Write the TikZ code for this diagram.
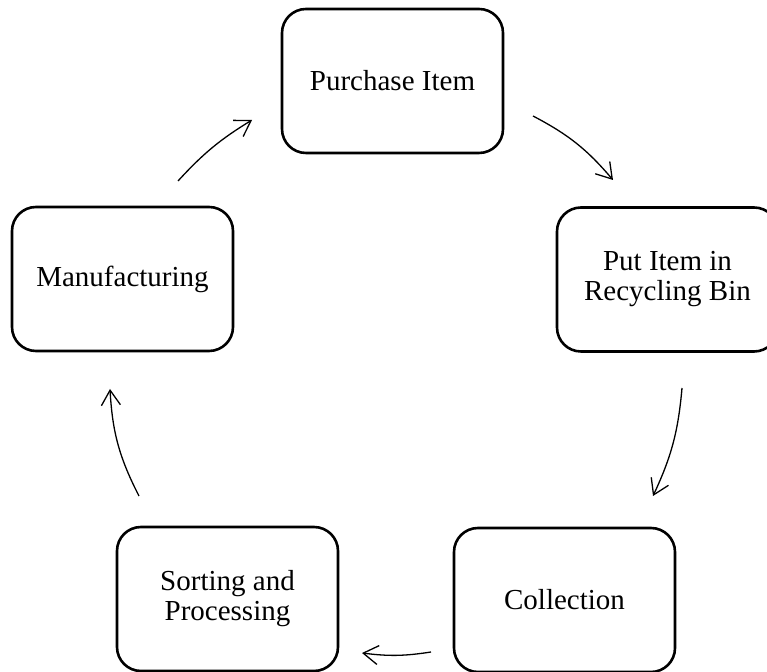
\documentclass[tikz,border=0pt]{standalone}
\usepackage{fontspec}
\setmainfont{Liberation Serif}
\usetikzlibrary{arrows.meta}
\begin{document}
\begin{tikzpicture}[x=1pt,y=1pt,
  stagebox/.style={draw, line width=2.6pt, rounded corners=24pt, minimum width=221pt, minimum height=144pt, inner sep=0pt, align=center, font=\fontsize{29}{30}\selectfont},
  cyclearrow/.style={-{Straight Barb[length=15pt,width=19pt]}, line width=1.3pt}]
\useasboundingbox (0,0) rectangle (767,671);
\node[stagebox] (P) at (392.5,590) {Purchase Item};
\node[stagebox] (R) at (667.5,391.5) {Put Item in\\Recycling Bin};
\node[stagebox] (M) at (122.5,392) {Manufacturing};
\node[stagebox] (S) at (227.5,72) {Sorting and\\Processing};
\node[stagebox] (C) at (564.5,71) {Collection};
\coordinate (a1s) at (533,555); \coordinate (a1e) at (613,491);
\coordinate (a2s) at (682,283); \coordinate (a2e) at (653,175);
\coordinate (a3s) at (431,19);  \coordinate (a3e) at (362,18);
\coordinate (a4s) at (139,175); \coordinate (a4e) at (110,282);
\coordinate (a5s) at (178,490); \coordinate (a5e) at (252,551);
\draw[cyclearrow] (a1s) to[bend left=11] (a1e);
\draw[cyclearrow] (a2s) to[bend left=10] (a2e);
\draw[cyclearrow] (a3s) to[bend left=8] (a3e);
\draw[cyclearrow] (a4s) to[bend left=12] (a4e);
\draw[cyclearrow] (a5s) to[bend left=8] (a5e);
\end{tikzpicture}
\end{document}
